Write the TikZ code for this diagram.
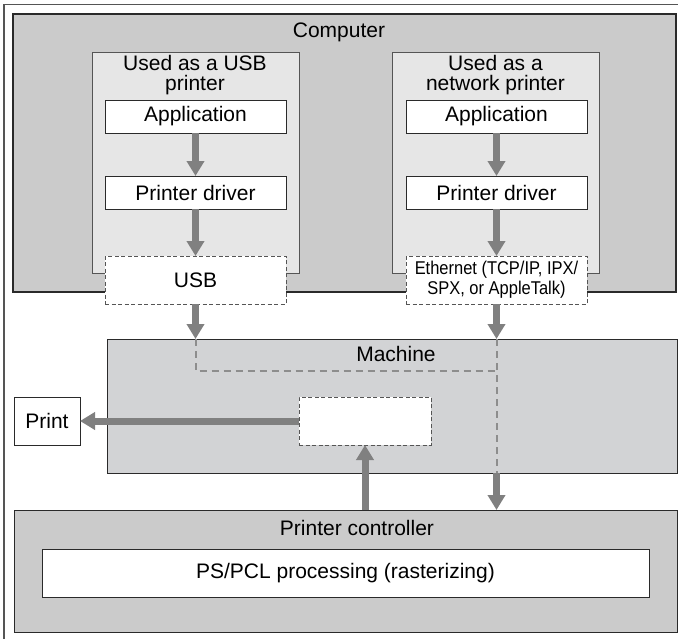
\documentclass[tikz,border=0pt]{standalone}
\usepackage{fontspec}
\setmainfont{Liberation Sans}
\usetikzlibrary{arrows.meta}
\definecolor{compgray}{HTML}{CBCBCB}
\definecolor{panelgray}{HTML}{E6E6E6}
\definecolor{machgray}{HTML}{D2D3D5}
\definecolor{arrowgray}{HTML}{808080}
\definecolor{edgecol}{HTML}{2A2A2A}
\definecolor{framecol}{HTML}{555555}
\begin{document}
\begin{tikzpicture}[x=1pt,y=-1pt,
  font=\fontsize{21}{20}\selectfont,
  region/.style={rectangle, anchor=north west, inner sep=0pt, outer sep=0pt, draw=edgecol, line width=1pt},
  panel/.style={region, fill=panelgray, draw=framecol},
  wbox/.style={region, fill=white, align=center},
  dbox/.style={wbox, dash pattern=on 4pt off 2.5pt, draw=framecol},
  lbl/.style={inner sep=0pt, align=center},
  flow/.style={draw=arrowgray, line width=7pt, -{Triangle[width=17pt,length=15pt]}},
  dashline/.style={draw=arrowgray!90!white, line width=2pt, dash pattern=on 7pt off 5pt},
  framel/.style={draw=framecol, line width=1.6pt}
]
\useasboundingbox (0,0) rectangle (678,638);
% outer frame
\coordinate (fbl) at (4,640);
\coordinate (ftl) at (4,4.5);
\coordinate (ftr) at (680,4.5);
\draw[framel] (fbl) -- (ftl) -- (ftr);

% computer
\node[region, fill=compgray, line width=1.2pt, minimum width=663pt, minimum height=278pt] (comp) at (13,14) {};
\node[lbl] (complbl) at (339,32) {Computer};
\node[panel, minimum width=207pt, minimum height=221pt] (usbp) at (92,52) {};
\node[panel, minimum width=207pt, minimum height=221pt] (netp) at (392,52) {};
\node[lbl] (usbt) at (195,75) {Used as a USB\\printer};
\node[lbl] (nett) at (495.5,75) {Used as a\\network printer};

\node[wbox, minimum width=181pt, minimum height=33pt] (app1) at (105,100) {Application};
\node[wbox, minimum width=181pt, minimum height=33pt] (drv1) at (105,176) {Printer driver};
\node[dbox, minimum width=181pt, minimum height=48pt] (usb) at (105,256) {USB};

\node[wbox, minimum width=181pt, minimum height=33pt] (app2) at (406,100) {Application};
\node[wbox, minimum width=181pt, minimum height=33pt] (drv2) at (406,176) {Printer driver};
\node[dbox, minimum width=181pt, minimum height=48pt,
  font=\fontsize{18.5}{20}\selectfont] (eth) at (406,256)
  {\scalebox{0.89}[1]{Ethernet (TCP/IP, IPX/}\\\scalebox{0.89}[1]{SPX, or AppleTalk)}};

% machine
\node[region, fill=machgray, minimum width=570pt, minimum height=134pt] (mach) at (107,339) {};
\node[lbl] (machlbl) at (396,354) {Machine};
\node[dbox, minimum width=132pt, minimum height=48pt] (inner) at (299,397) {};
\node[wbox, minimum width=66pt, minimum height=48pt] (print) at (14,397) {Print};

% printer controller
\node[region, fill=compgray, minimum width=663pt, minimum height=122pt] (ctrl) at (14,510) {};
\node[lbl] (ctrllbl) at (357,528) {Printer controller};
\node[wbox, minimum width=607pt, minimum height=48pt] (ps) at (42,549) {PS/PCL processing (rasterizing)};

% arrows in computer
\draw[flow] (app1.south) -- (drv1.north);
\draw[flow] (drv1.south) -- (usb.north);
\draw[flow] (app2.south) -- (drv2.north);
\draw[flow] (drv2.south) -- (eth.north);

% to machine
\draw[flow] (usb.south) -- (usb.south |- mach.north);
\draw[flow] (eth.south) -- (eth.south |- mach.north);
\coordinate (ubend) at (usb.south |- 0,371);
\coordinate (ebend) at (eth.south |- 0,371);
\draw[dashline] (usb.south |- mach.north) -- (ubend) -- (ebend);
\draw[dashline] (eth.south |- mach.north) -- (eth.south |- mach.south);
\draw[flow] (eth.south |- mach.south) -- (eth.south |- ctrl.north);

% controller to machine, machine to print
\draw[flow] (inner.south |- ctrl.north) -- (inner.south);
\draw[flow] (inner.west) -- (print.east);
\end{tikzpicture}
\end{document}
